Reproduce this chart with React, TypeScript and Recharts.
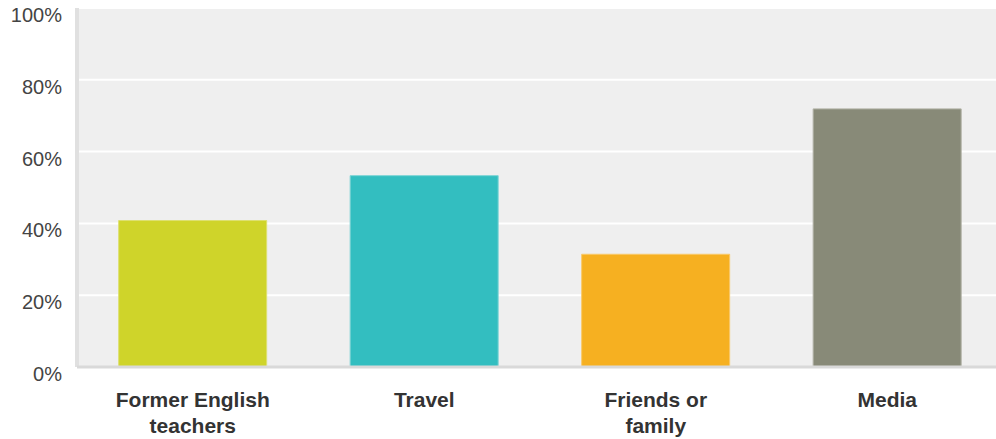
import React from "react";
import { BarChart, Bar, XAxis, YAxis, CartesianGrid, Cell } from "recharts";

const categories = ["Former English teachers", "Travel", "Friends or family", "Media"];
const categoryLines = [["Former English", "teachers"], ["Travel"], ["Friends or", "family"], ["Media"]];
const values = [40.8, 53.3, 31.4, 71.9];
const colors = ["#cfd42a", "#33bec0", "#f6b021", "#888a78"];
const strokes = ["#dde070", "#7dd4d5", "#f9c96a", "#b0b1a4"];
const yTicks = [0, 20, 40, 60, 80, 100];

const data = categories.map((c, i) => ({ name: c, value: values[i], idx: i }));

const XTick = (props: any) => {
  const { x, y, payload } = props;
  const idx = categories.indexOf(payload.value);
  const lines = categoryLines[idx] || [payload.value];
  return (
    <text
      x={x}
      y={y}
      textAnchor="middle"
      fill="#333"
      fontFamily="'Liberation Sans', Arial, sans-serif"
      fontWeight="bold"
      fontSize={21}
    >
      {lines.map((l: string, i: number) => (
        <tspan key={i} x={x} y={y + 40 + i * 26}>
          {l}
        </tspan>
      ))}
    </text>
  );
};

const YTick = (props: any) => {
  const { x, y, payload } = props;
  return (
    <text
      x={x}
      y={y + 14}
      textAnchor="end"
      fill="#444"
      fontFamily="'Liberation Sans', Arial, sans-serif"
      fontSize={20}
    >
      {payload.value + "%"}
    </text>
  );
};

export default function App() {
  return (
    <div style={{ position: "absolute", left: 0, top: 0, width: 996, height: 439, overflow: "hidden", background: "#fff" }}>
      <BarChart
        width={1003}
        height={439}
        data={data}
        margin={{ top: 8, right: 0, bottom: 0, left: 0 }}
        barCategoryGap="18%"
      >
        <CartesianGrid fill="#efefef" stroke="#ffffff" strokeWidth={2} vertical={false} />
        <YAxis
          width={77}
          domain={[0, 100]}
          ticks={yTicks}
          tickLine={false}
          tickSize={0}
          tickMargin={15}
          axisLine={{ stroke: "#e0e0e0", strokeWidth: 4 }}
          tick={<YTick />}
          interval={0}
        />
        <XAxis
          dataKey="name"
          height={72}
          tickLine={false}
          tickSize={0}
          tickMargin={0}
          axisLine={{ stroke: "#d9d9d9", strokeWidth: 3 }}
          tick={<XTick />}
          interval={0}
        />
        <Bar dataKey="value" isAnimationActive={false} strokeWidth={1}>
          {data.map((d, i) => (
            <Cell key={i} fill={colors[i]} stroke={strokes[i]} />
          ))}
        </Bar>
      </BarChart>
    </div>
  );
}
